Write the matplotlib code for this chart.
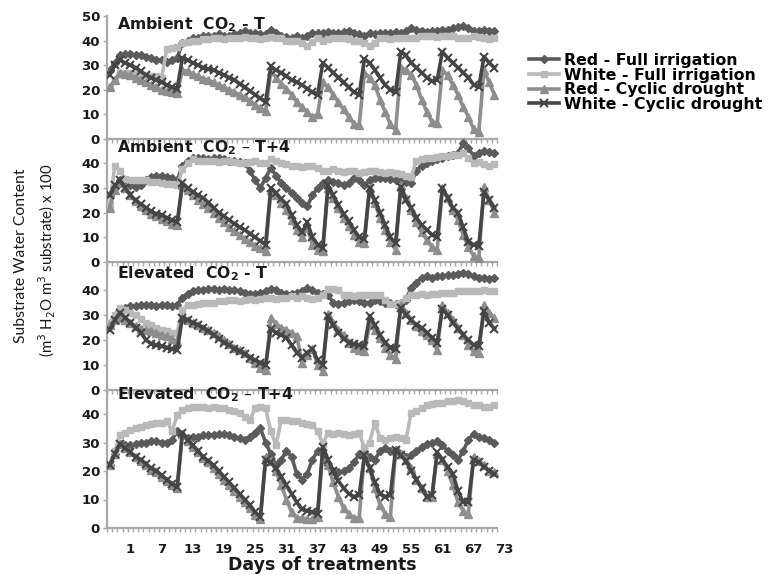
import numpy as np
import matplotlib
matplotlib.use("Agg")
import matplotlib.pyplot as plt

plt.rcParams['font.family'] = ['DejaVu Sans']

# ---------------- data ----------------
days = list(range(-3, 72))          # 75 daily categories
tick_days = [1, 7, 13, 19, 25, 31, 37, 43, 49, 55, 61, 67, 73]
tick_labels = [str(d) for d in tick_days]

series_names = ["Red - Full irrigation", "White - Full irrigation",
                "Red - Cyclic drought", "White - Cyclic drought"]
panel_titles = [r"Ambient  CO$_\mathbf{2}$ - T", r"Ambient  CO$_\mathbf{2}$ – T+4",
                r"Elevated  CO$_\mathbf{2}$ - T", r"Elevated  CO$_\mathbf{2}$ – T+4"]

# Panel 1: Ambient CO2 - T
red_fi_1 = [28, 31, 34, 34.5, 34.5, 34, 34, 33.5, 33, 32,
            32, 31.5, 32, 33, 39, 40, 41, 41, 42, 42,
            42, 42.5, 42, 42, 42.5, 43, 44, 43, 43, 42.5,
            42.5, 44.5, 43, 42, 41.5, 41, 42, 41, 42, 43,
            43, 43, 43.5, 43, 43, 43.5, 44, 43, 42.5, 42,
            43, 42.5, 43, 43, 43, 43.5, 43, 44, 45, 44.5,
            44, 43.5, 44, 44, 44.5, 44.5, 45, 45.5, 46, 45,
            44, 44, 44.5, 44, 44]
white_fi_1 = [21, 24, 27, 27, 27, 26.5, 26, 26, 25.5, 25.5,
              25, 36.5, 37, 37.5, 39, 39.5, 40, 40, 40.5, 40.5,
              41, 41, 40.5, 41, 41, 41, 41.5, 41, 41, 40.5,
              41, 41.5, 41, 41, 40, 40, 40, 39, 38, 39.5,
              41, 40, 40.5, 41, 41, 41, 40.5, 40, 40, 39,
              38, 39, 41, 41, 40.5, 41, 41, 41, 41, 41,
              42, 42, 42, 41.5, 42, 42, 42, 41, 41, 41,
              42, 41.5, 41, 40.5, 41]
red_cd_1 = [21, 24, 27, 26.5, 26, 25, 24, 23, 22, 21,
            20, 19.5, 19, 18.5, 28, 27.5, 26.5, 25.5, 24.5, 24,
            23, 22, 21, 20, 19, 18, 17, 15.5, 14, 12.5,
            11.5, 27.5, 25, 22.5, 20.5, 18, 15, 13, 11, 9,
            10, 23, 21, 18, 15, 12, 9, 6, 5.5, 27,
            25, 22, 16, 11, 6, 3.5, 29, 28, 26, 22,
            16, 11, 7, 6.5, 28, 26, 22, 18, 13, 9,
            4, 3, 28, 23, 18]
white_cd_1 = [26, 30, 32, 31, 30, 29, 27.5, 26, 25, 24,
              23, 22, 21, 20.5, 33, 32, 31, 30, 29, 28.5,
              28, 27, 26, 25, 24, 22.5, 21, 19.5, 18, 16.5,
              15, 29.5, 28, 27, 25.5, 24, 23, 22, 20.5, 19,
              18, 31, 29, 27, 25, 23, 21, 19, 18, 32.5,
              31, 28, 25, 22, 20, 19, 35.5, 34, 31, 29,
              27, 25, 23.5, 24, 35.5, 33, 31, 29, 27, 25,
              22, 21, 33.5, 31, 29]

# Panel 2: Ambient CO2 - T+4
red_fi_2 = [27, 30, 33, 33, 31, 30.5, 31, 33, 34.5, 35,
            35, 34.5, 34, 33, 39, 41, 42, 42, 42, 41.5,
            42, 42, 41.5, 41, 41, 40.5, 40, 37, 33, 30,
            34, 38, 35, 32, 30, 28, 26, 24, 22.5, 27,
            30, 32, 33, 32.5, 32, 31, 32, 34, 33, 31,
            33, 34, 34, 34, 33.5, 33, 33, 32.5, 32, 37,
            39, 40, 41, 41.5, 42, 43, 43.5, 44, 48, 46,
            43, 44, 45, 44.5, 44]
white_fi_2 = [23, 39, 37, 33.5, 33, 33, 33, 33, 32.5, 32.5,
              32, 31.5, 31.5, 31, 37.5, 40, 41.5, 41, 41, 41,
              41, 40.5, 41, 41, 40.5, 40, 40, 40.5, 41, 40,
              40, 41.5, 41, 40, 39.5, 39, 39, 38.5, 39, 39,
              38, 37, 37, 37.5, 37, 36.5, 37, 37, 36, 36.5,
              37, 37, 36.5, 36, 36.5, 36, 35.5, 35, 34.5, 41,
              41.5, 42, 42, 42.5, 43, 43, 43.5, 43.5, 44, 42,
              40, 40.5, 39.5, 39, 39.5]
red_cd_2 = [22, 29, 32, 30, 27, 24.5, 22.5, 21, 19.5, 18.5,
            17.5, 16.5, 15.5, 15, 31, 29, 27, 25, 23.5, 22,
            20, 18, 16, 14, 12.5, 11, 9.5, 8, 6.5, 5.5,
            4.5, 29, 27, 24, 21, 17, 13, 10, 14, 7,
            5, 4.5, 30, 26, 22, 18, 14.5, 11, 8, 7.5,
            30, 24, 18, 13, 8, 5, 31, 26, 21, 16,
            12, 9, 6, 5, 30, 26, 21, 17, 11, 6,
            2.5, 1.5, 30.5, 25, 20]
white_cd_2 = [27, 31, 33, 30, 27, 25, 23.5, 22, 20.5, 19.5,
              19, 18, 17, 16, 32, 30, 28.5, 27, 26, 24,
              22, 20, 18.5, 17, 15.5, 14, 13, 11.5, 10, 8.5,
              7, 30, 28, 25.5, 23.5, 19, 15, 12, 16, 10,
              7, 5.5, 31, 27, 23, 19.5, 16.5, 13, 10, 9.5,
              30, 25, 20, 15, 10, 7.5, 30.5, 25, 22, 18,
              15, 13, 11, 10, 30, 26, 22, 20, 14, 8,
              7, 6.5, 28.5, 25, 22]

# Panel 3: Elevated CO2 - T
red_fi_3 = [26, 29, 32, 33, 33.5, 33.5, 34, 34, 34, 33.5,
            34, 34, 33.5, 34, 37, 38.5, 39.5, 40, 40, 40.5,
            40.5, 40, 40.5, 40, 40, 39.5, 39, 38.5, 38.5, 39,
            39.5, 40.5, 40, 39, 38.5, 38.5, 39, 39.5, 41, 40,
            39, 38.5, 38, 35, 34.5, 35, 35.5, 36, 35.5, 35,
            35, 36, 35.5, 35, 35, 34.5, 35, 36, 41, 43,
            45, 45.5, 45, 45.5, 45.5, 46, 46, 46.5, 47, 46.5,
            45.5, 45, 45, 44.5, 45]
white_fi_3 = [27, 30, 33, 32, 31, 30, 28.5, 27, 26, 25,
              24, 23.5, 23, 23, 32, 34, 34, 34.5, 35, 35,
              35, 35.5, 35.5, 36, 36, 35.5, 36, 36.5, 36, 36.5,
              37, 37, 36.5, 37, 37, 37.5, 37, 37.5, 37, 36.5,
              37, 38, 40.5, 40.5, 40, 38, 38, 37.5, 38, 38,
              38, 38, 38, 36, 34.5, 34.5, 35, 37, 38, 38,
              38.5, 38, 38.5, 38.5, 39, 39, 39, 39.5, 39.5, 39.5,
              39.5, 39.5, 40, 39.5, 39.5]
red_cd_3 = [26, 28, 29, 28, 27, 25.5, 24.5, 24, 23.5, 23,
            22, 21.5, 20.5, 19.5, 29, 28, 27, 26, 25, 24,
            23, 21.5, 20, 18.5, 17, 16, 15, 13, 11, 9,
            8, 29, 26.5, 25, 24, 23, 21.5, 11, 14, 16.5,
            10, 7.5, 30.5, 27, 24, 22, 19, 17, 16, 15.5,
            26, 24, 21, 17, 14, 12.5, 34, 31, 28, 25.5,
            23.5, 22, 20, 16, 34, 31, 28, 25, 22, 18,
            15.5, 15, 34, 31, 29]
white_cd_3 = [24, 28, 31, 29, 27, 25, 23, 20, 18.5, 18,
              17.5, 17, 16.5, 16, 29, 28, 27, 26, 25, 23.5,
              22, 20.5, 19, 18, 16.5, 15.5, 14.5, 13, 12, 11,
              10, 24.5, 23, 22, 21, 18, 15, 13, 15, 16.5,
              12, 10, 29.5, 26, 23, 20.5, 19, 18.5, 18, 17.5,
              29.5, 26, 22, 19, 17, 16.5, 33, 30, 28, 26,
              25, 23, 21, 19, 32.5, 30, 27, 24.5, 22, 20,
              18, 17.5, 31.5, 27, 24.5]

# Panel 4: Elevated CO2 - T+4
red_fi_4 = [22, 26, 29.5, 29, 29, 29.5, 30, 30, 30.5, 30.5,
            30, 30, 31, 34, 32.5, 31.5, 32, 32, 32.5, 32.5,
            32.5, 33, 33, 32.5, 32, 31.5, 31, 32, 33.5, 35,
            30, 26, 22, 24, 27, 25, 19, 17, 19, 24,
            27, 26, 22, 20, 19.5, 20, 21, 23, 26, 27,
            25, 24, 27, 28, 27, 27.5, 26, 25, 25.5, 27,
            28.5, 29.5, 30, 30.5, 29, 27, 25.5, 24, 27, 31,
            33, 32, 31.5, 31, 30]
white_fi_4 = [22, 27, 32.5, 33.5, 34.5, 35, 35.5, 36, 36.5, 37,
              37, 37.5, 34, 39.5, 41.5, 42, 42.5, 42.5, 42.5, 42,
              42.5, 42, 42, 41.5, 41, 40.5, 39, 38, 42, 42.5,
              42, 34, 29, 38, 38, 37.5, 37.5, 37, 36.5, 36,
              34, 29.5, 33.5, 33, 33.5, 33, 32.5, 33, 33.5, 28,
              30, 37, 31.5, 31, 31.5, 32, 31.5, 31, 40.5, 41,
              42, 43, 43.5, 44, 44, 44.5, 44.5, 45, 44.5, 44,
              43, 43, 42.5, 42.5, 43]
red_cd_4 = [22, 26, 29.5, 28, 26.5, 25, 23.5, 22, 20.5, 19.5,
            18, 16.5, 15, 14, 33, 30.5, 28.5, 26.5, 24.5, 23,
            21, 19, 17, 15, 13, 11, 9, 7, 4.5, 3,
            25, 23.5, 20, 15, 10, 5.5, 3.5, 3.5, 3, 3,
            4, 27, 22, 16, 11, 7, 5, 3.5, 3.5, 26,
            21, 14, 8, 5, 4, 27, 26, 24, 21, 17,
            14, 11, 11, 26, 24, 20, 15, 9, 6, 5,
            25, 23.5, 22, 20, 19.5]
white_cd_4 = [22, 26, 29.5, 28, 26.5, 25, 24, 22.5, 21, 20,
              18.5, 17, 15.5, 14.5, 33.5, 31, 29, 27, 25, 23.5,
              22, 20, 18, 16, 14, 12, 10, 8, 5.5, 4,
              24, 23, 21, 18, 15, 12, 9, 6.5, 6, 5.5,
              5, 28.5, 24, 20, 16.5, 14, 12, 11, 11.5, 25.5,
              21, 16, 12, 11, 11.5, 27.5, 25.5, 23.5, 20, 17,
              14, 11, 11.5, 26.5, 24, 21.5, 19, 13, 9, 9,
              24, 23, 21.5, 20, 19]

panels = [
    [red_fi_1, white_fi_1, red_cd_1, white_cd_1],
    [red_fi_2, white_fi_2, red_cd_2, white_cd_2],
    [red_fi_3, white_fi_3, red_cd_3, white_cd_3],
    [red_fi_4, white_fi_4, red_cd_4, white_cd_4],
]

# ---------------- styles ----------------
styles = [
    dict(color='#5b5b5b', marker='D', markersize=4.2),
    dict(color='#b9b9b9', marker='s', markersize=4.2),
    dict(color='#8e8e8e', marker='^', markersize=5.2),
    dict(color='#454545', marker='x', markersize=5.2, markeredgewidth=1.5),
]

W, H = 773, 575
fig = plt.figure(figsize=(W / 100, H / 100), dpi=100)

px_per_day = 5.2
left_px = 107
xmin, xmax = -3.5, 74.5
ax_w = (xmax - xmin) * px_per_day
# (bottom_px_of_zero, height_px_of_50)
geo = [(139, 123), (262, 123.5), (390, 125), (528, 142.5)]

spine_col = '#a8a8a8'
txt_col = '#1a1a1a'
axes = []
for k, (b_px, h_px) in enumerate(geo):
    ax = fig.add_axes([left_px / W, 1 - b_px / H, ax_w / W, h_px / H])
    ax.patch.set_alpha(0)
    for j, ys in enumerate(panels[k]):
        ax.plot(days, ys, linewidth=2.6, label=series_names[j], zorder=2 + j,
                **styles[j])
    ax.set_xlim(xmin, xmax)
    ax.set_ylim(0, 50)
    ax.set_yticks([0, 10, 20, 30, 40, 50] if k == 0 else [0, 10, 20, 30, 40])
    ax.set_xticks(tick_days)
    ax.set_xticks(np.arange(-3.5, 72, 1.0), minor=True)
    ax.spines['top'].set_visible(False)
    ax.spines['right'].set_visible(False)
    for s in ('left', 'bottom'):
        ax.spines[s].set_color(spine_col)
        ax.spines[s].set_linewidth(1.6)
    ax.spines['bottom'].set_bounds(-3.5, 71.5)
    ax.tick_params(axis='x', which='minor', length=3, width=1, color=spine_col,
                   direction='out')
    ax.tick_params(axis='x', which='major', length=0, pad=11)
    ax.tick_params(axis='y', which='major', length=3, width=1, color=spine_col,
                   labelsize=9.5, pad=2)
    for t in ax.get_yticklabels():
        t.set_fontweight('bold')
        t.set_color(txt_col)
    if k == 3:
        ax.set_xticklabels(tick_labels, fontsize=9.5, fontweight='bold',
                           color=txt_col)
    else:
        ax.set_xticklabels([])
    ax.annotate(panel_titles[k], xy=(0, 1), xycoords='axes fraction',
                xytext=(7, 0.5), textcoords='offset points', va='top', ha='left',
                fontsize=11.3, fontweight='bold', color=txt_col)
    axes.append(ax)

fig.text(322 / W, 1 - 565 / H, "Days of treatments", ha='center', va='center',
         fontsize=12.5, fontweight='bold', color=txt_col)

handles, labels = axes[0].get_legend_handles_labels()
fig.legend(handles, labels, loc='upper left',
           bbox_to_anchor=(521 / W, 1 - 45 / H), frameon=False,
           labelspacing=-0.02, handlelength=1.95,
           handletextpad=0.3, borderpad=0,
           prop={'weight': 'bold', 'size': 11.3})

fig.text(21 / W, 1 - 256 / H, "Substrate Water Content", rotation=90,
         ha='center', va='center', fontsize=11.3, color=txt_col,
         family=['Lato', 'DejaVu Sans'])
fig.text(47 / W, 1 - 260 / H, r"(m$^3$ H$_2$O m$^3$ substrate) x 100", rotation=90,
         ha='center', va='center', fontsize=10.8, color=txt_col,
         family=['Lato', 'DejaVu Sans'])

fig.savefig("out.png", dpi=100)
